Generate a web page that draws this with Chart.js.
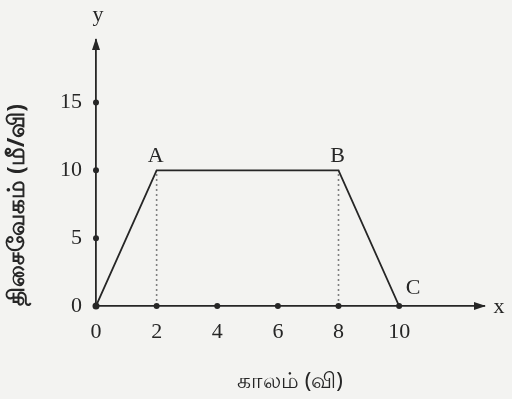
<!DOCTYPE html>
<html><head><meta charset="utf-8">
<script src="https://cdn.jsdelivr.net/npm/chart.js@4/dist/chart.umd.min.js"></script>
<style>html,body{margin:0;padding:0;background:#f3f3f1;}#wrap{width:512px;height:399px;}</style>
</head><body><div id="wrap"><canvas id="c" width="512" height="399"></canvas></div>
<script>
const times = [0, 2, 8, 10];
const velocity = [0, 10, 10, 0];
const pointNames = ['', 'A', 'B', 'C'];
const xTicks = [0, 2, 4, 6, 8, 10];
const yTicks = [0, 5, 10, 15];
const xTitle = 'காலம் (வி)';
const yTitle = 'திசைவேகம் (மீ/வி)';

const ink = '#262626';
const serif = '"Liberation Serif", "DejaVu Serif", serif';

const deco = {
  id: 'deco',
  afterDraw(chart) {
    const {ctx, scales: {x, y}} = chart;
    const x0 = x.getPixelForValue(0), y0 = y.getPixelForValue(0);
    const xr = x.right, yt = y.top;
    ctx.save();
    ctx.fillStyle = ink; ctx.strokeStyle = ink;
    ctx.beginPath(); ctx.moveTo(xr + 2, y0); ctx.lineTo(xr - 10, y0 - 4); ctx.lineTo(xr - 10, y0 + 4); ctx.closePath(); ctx.fill();
    ctx.beginPath(); ctx.moveTo(x0, yt - 2); ctx.lineTo(x0 - 4, yt + 10); ctx.lineTo(x0 + 4, yt + 10); ctx.closePath(); ctx.fill();
    xTicks.forEach(v => { ctx.beginPath(); ctx.arc(x.getPixelForValue(v), y0, v === 0 ? 3.5 : 3, 0, Math.PI * 2); ctx.fill(); });
    yTicks.forEach(v => { if (v === 0) return; ctx.beginPath(); ctx.arc(x0, y.getPixelForValue(v), 3, 0, Math.PI * 2); ctx.fill(); });
    ctx.font = '22px ' + serif; ctx.textAlign = 'center'; ctx.textBaseline = 'middle';
    ctx.fillText('x', xr + 15, y0 + 1);
    ctx.fillText('y', x0 + 2, yt - 25);
    ctx.font = '22px ' + serif;
    times.forEach((t, i) => {
      const n = pointNames[i]; if (!n) return;
      const px = x.getPixelForValue(t), py = y.getPixelForValue(velocity[i]);
      if (n === 'C') ctx.fillText(n, px + 14, py - 18);
      else ctx.fillText(n, px - 1, py - 14);
    });
    ctx.restore();
  }
};

new Chart(document.getElementById('c'), {
  type: 'scatter',
  data: {
    datasets: [
      { data: times.map((t, i) => ({x: t, y: velocity[i]})), showLine: true, borderColor: ink, borderWidth: 1.8, pointRadius: 0, tension: 0 },
      { data: [{x: times[1], y: 0}, {x: times[1], y: velocity[1]}], showLine: true, borderColor: '#808080', borderWidth: 1.6, borderDash: [2, 3], pointRadius: 0 },
      { data: [{x: times[2], y: 0}, {x: times[2], y: velocity[2]}], showLine: true, borderColor: '#808080', borderWidth: 1.6, borderDash: [2, 3], pointRadius: 0 }
    ]
  },
  options: {
    responsive: false, animation: false,
    layout: {padding: {top: 40, right: 28, left: 0, bottom: 0}},
    plugins: {legend: {display: false}, tooltip: {enabled: false}},
    scales: {
      x: {
        type: 'linear', min: 0, max: 12.8,
        afterBuildTicks: s => { s.ticks = xTicks.map(v => ({value: v})); },
        afterFit: s => { s.height = 93; },
        grid: {display: true, drawOnChartArea: false, drawTicks: false},
        border: {display: true, color: ink, width: 1.8},
        ticks: {color: ink, padding: 13, font: {family: serif, size: 22}},
        title: {display: true, text: xTitle, color: ink, padding: {top: 0}, font: {size: 22, family: '"Noto Sans", sans-serif'}}
      },
      y: {
        type: 'linear', min: 0, max: 19.6,
        afterBuildTicks: s => { s.ticks = yTicks.map(v => ({value: v})); },
        afterFit: s => { s.width = 96; },
        grid: {display: true, drawOnChartArea: false, drawTicks: false},
        border: {display: true, color: ink, width: 1.8},
        ticks: {color: ink, padding: 14, font: {family: serif, size: 22}},
        title: {display: true, text: yTitle, align: 'start', color: ink, padding: {bottom: 2}, font: {size: 23, weight: 'bold', family: '"Noto Sans", sans-serif'}}
      }
    }
  },
  plugins: [deco]
});
</script></body></html>
